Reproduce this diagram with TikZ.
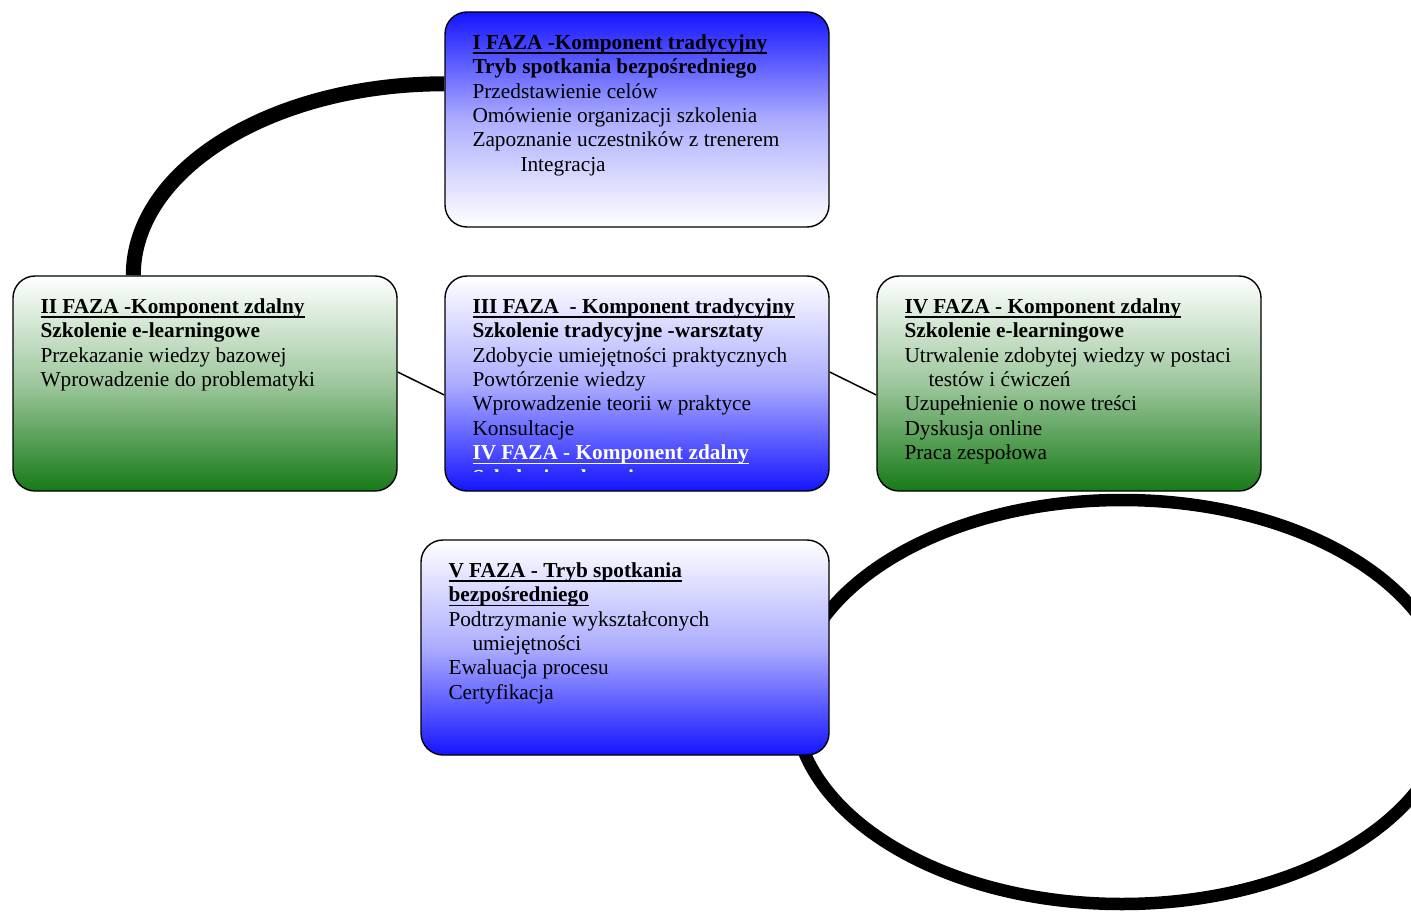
\documentclass[tikz,border=0pt]{standalone}
\usepackage{fontspec}
\setmainfont{Liberation Serif}
\usetikzlibrary{calc,backgrounds}
\definecolor{fazaNiebieski}{HTML}{1414FF}
\definecolor{fazaZielony}{HTML}{177A17}
\newcommand\podkresl[1]{\setbox0\hbox{#1}\rlap{\rule[-4.4pt]{\wd0}{1.5pt}}\box0}
\begin{document}
\begin{tikzpicture}[x=1pt,y=-1pt,line cap=butt,line join=round]
\useasboundingbox (0,0) rectangle (1411,912);
\tikzset{faza/.style={draw=black,line width=1.4pt,rounded corners=22pt,minimum width=384pt,minimum height=215pt,inner sep=0pt},
  niebieskaGora/.style={faza,top color=fazaNiebieski,bottom color=white,middle color=fazaNiebieski!35},
  niebieskiDol/.style={faza,top color=white,bottom color=fazaNiebieski,middle color=fazaNiebieski!35},
  zielonyDol/.style={faza,top color=white,bottom color=fazaZielony,middle color=fazaZielony!42},
  tekst/.style={anchor=north west,inner sep=0pt,align=left,text=black,font=\fontsize{21.3}{24.4}\selectfont},
  gruba/.style={draw=black,line width=15pt},
  cienka/.style={draw=black,line width=1.5pt},
  elipsa/.style={draw=black,line width=12.5pt}}
\node[niebieskaGora] (b1) at (637,119.5) {};
\node[zielonyDol] (b2) at (205,383.5) {};
\node[niebieskiDol] (b3) at (637,383.5) {};
\node[zielonyDol] (b4) at (1069,383.5) {};
\node[niebieskiDol,minimum width=408pt] (b5) at (625,647.5) {};
\node[tekst] (t1) at ($(b1.north west)+(28,23)$) {\podkresl{\textbf{I FAZA -Komponent tradycyjny}}\\\textbf{Tryb spotkania bezpośredniego}\\Przedstawienie celów\\Omówienie organizacji szkolenia\\Zapoznanie uczestników z trenerem\\\hspace*{48pt}Integracja};
\node[tekst] (t2) at ($(b2.north west)+(28,23)$) {\podkresl{\textbf{II FAZA -Komponent zdalny}}\\\textbf{Szkolenie e-learningowe}\\Przekazanie wiedzy bazowej\\Wprowadzenie do problematyki};
\begin{scope}
\clip (b3.north west) rectangle ($(b3.south east)+(0,-20)$);
\node[tekst] (t3) at ($(b3.north west)+(28,23)$) {\podkresl{\textbf{III FAZA \ - Komponent tradycyjny}}\\\textbf{Szkolenie tradycyjne -warsztaty}\\Zdobycie umiejętności praktycznych\\Powtórzenie wiedzy\\Wprowadzenie teorii w praktyce\\Konsultacje\\\color{white}\podkresl{\textbf{IV FAZA - Komponent zdalny}}\\\color{white}\textbf{Szkolenie e-learningowe}};
\end{scope}
\node[tekst] (t4) at ($(b4.north west)+(28,23)$) {\podkresl{\textbf{IV FAZA - Komponent zdalny}}\\\textbf{Szkolenie e-learningowe}\\Utrwalenie zdobytej wiedzy w postaci\\\hspace*{24pt}testów i ćwiczeń\\Uzupełnienie o nowe treści\\Dyskusja online\\Praca zespołowa};
\node[tekst] (t5) at ($(b5.north west)+(28,23)$) {\podkresl{\textbf{V FAZA - Tryb spotkania}}\\\podkresl{\textbf{bezpośredniego}}\\Podtrzymanie wykształconych\\\hspace*{24pt}umiejętności\\Ewaluacja procesu\\Certyfikacja};
\begin{pgfonlayer}{background}
\coordinate (lukA) at ($(b1.north west)+(0,72.5)$);
\coordinate (lukB) at ($(b2.north west)+(121,0)$);
\draw[gruba] (lukA) .. controls ($(lukA)+(-172,0)$) and ($(lukB)+(0,-106)$) .. (lukB);
\draw[cienka] ($(b2.east)+(0,-11.5)$) -- ($(b3.west)+(0,11.5)$);
\draw[cienka] ($(b3.east)+(0,-11.5)$) -- ($(b4.west)+(0,11.5)$);
\draw[elipsa] (1122,702) ellipse[x radius=328,y radius=202];
\end{pgfonlayer}
\end{tikzpicture}
\end{document}
